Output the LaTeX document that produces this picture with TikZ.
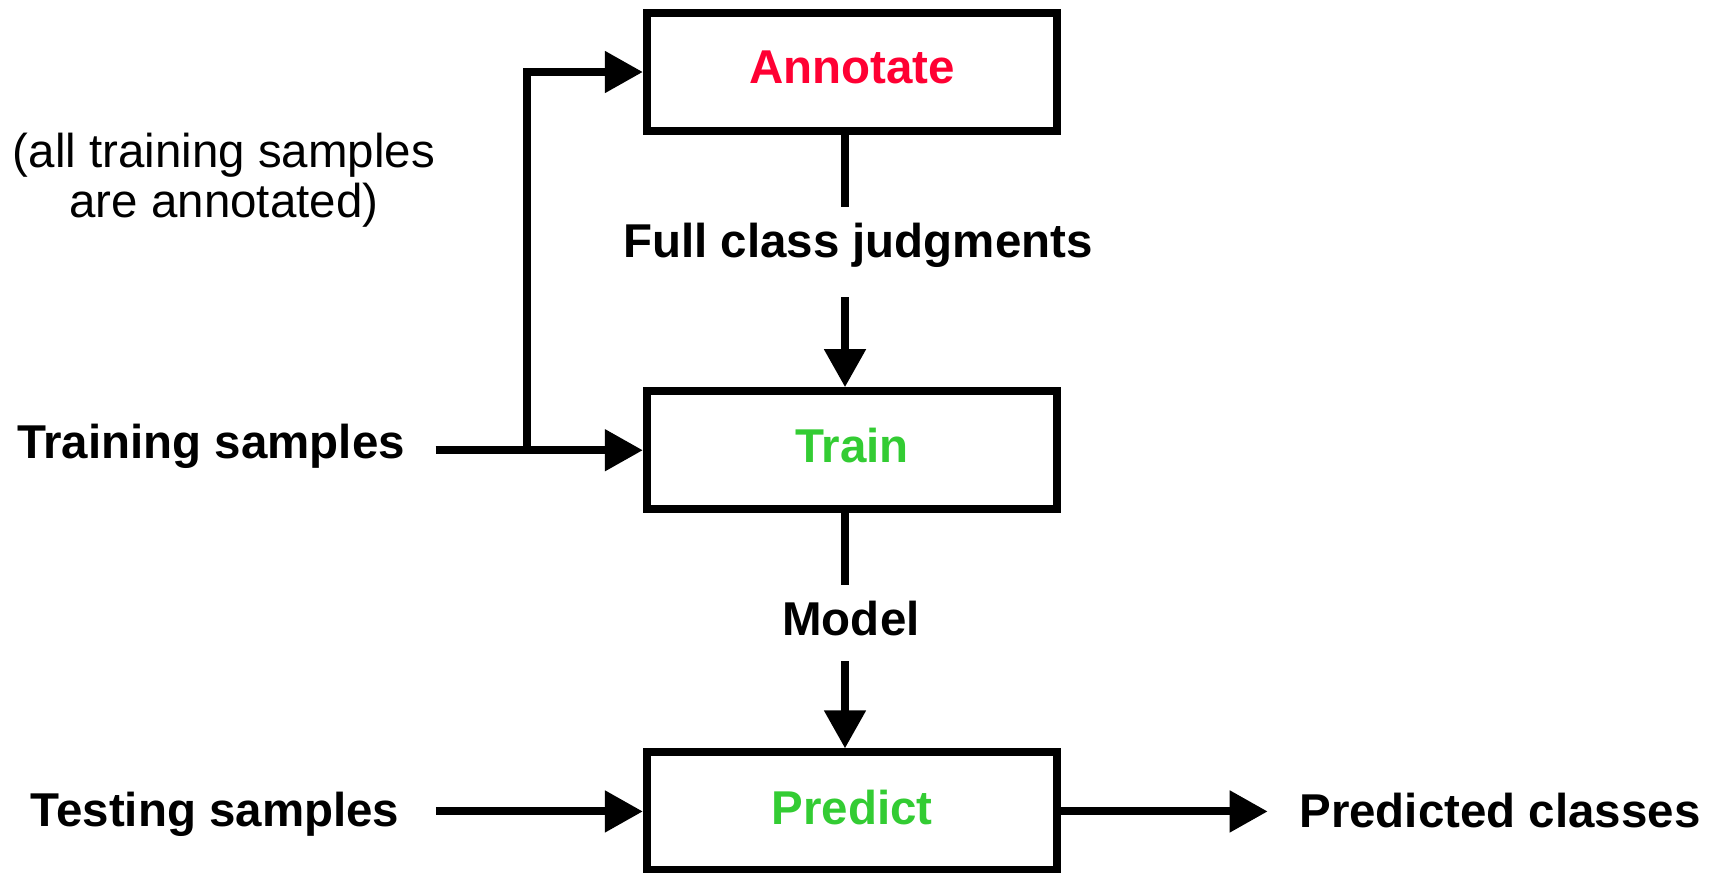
\documentclass[tikz,border=0pt]{standalone}
\usepackage{fontspec}
\setmainfont{Liberation Sans}
\usepackage{xcolor}
\usepackage{tikz}
\usetikzlibrary{positioning, arrows.meta}

\definecolor{annotred}{RGB}{255,0,51}
\definecolor{stepgreen}{RGB}{51,204,51}

\begin{document}
\begin{tikzpicture}[x=0.01cm, y=-0.01cm,
                boxnode/.style={rectangle, draw=black, line width=0.08cm, minimum width=4.1cm, minimum height=1.18cm, text depth=0.09cm, font=\fontsize{13.5pt}{14.2pt}\selectfont\bfseries},
                labelnode/.style={inner sep=0pt, anchor=base, font=\fontsize{13.5pt}{14.2pt}\selectfont\bfseries},
                notenode/.style={inner sep=0pt, align=center, font=\fontsize{13.5pt}{14.2pt}\selectfont},
                arrow/.style={line width=0.08cm, -{Triangle[length=0.38cm, width=0.4cm]}},
                line/.style={line width=0.08cm}
                ]
                \useasboundingbox (0,0) rectangle (1721,872);
                \node[boxnode, text=annotred] (annotate) at (852,72) {Annotate};
                \node[boxnode, text=stepgreen] (train) [below=2.52cm of annotate] {Train};
                \node[boxnode, text=stepgreen] (predict) [below=2.35cm of train] {Predict};
                \node[labelnode] (judgments) at (858,257) {Full class judgments};
                \node[labelnode] (model) at (851,635) {Model};
                \node[labelnode] (trainsamples) at (211,458) {Training samples};
                \node[labelnode] (testsamples) at (215,826) {Testing samples};
                \node[labelnode] (predclasses) at (1500,827) {Predicted classes};
                \node[notenode] (note) at (224,180) {(all training samples\\are annotated)};
                % gaps round the two labels on the vertical line
                \coordinate (judgin) at (845,207);
                \coordinate (judgout) at (845,297);
                \coordinate (modelin) at (845,585);
                \coordinate (modelout) at (845,661);
                \coordinate (split) at (527,449);
                \draw[line] (annotate.south -| judgin) -- (judgin);
                \draw[arrow] (judgout) -- (train.north -| judgout);
                \draw[line] (train.south -| modelin) -- (modelin);
                \draw[arrow] (modelout) -- (predict.north -| modelout);
                \draw[arrow] ([xshift=0.3cm]trainsamples.east |- train.west) -- (train.west);
                \draw[arrow] (split) |- (annotate.west);
                \draw[arrow] ([xshift=0.36cm]testsamples.east |- predict.west) -- (predict.west);
                \draw[arrow] (predict.east) -- ([xshift=-0.31cm]predclasses.west |- predict.east);
            \end{tikzpicture}
\end{document}
